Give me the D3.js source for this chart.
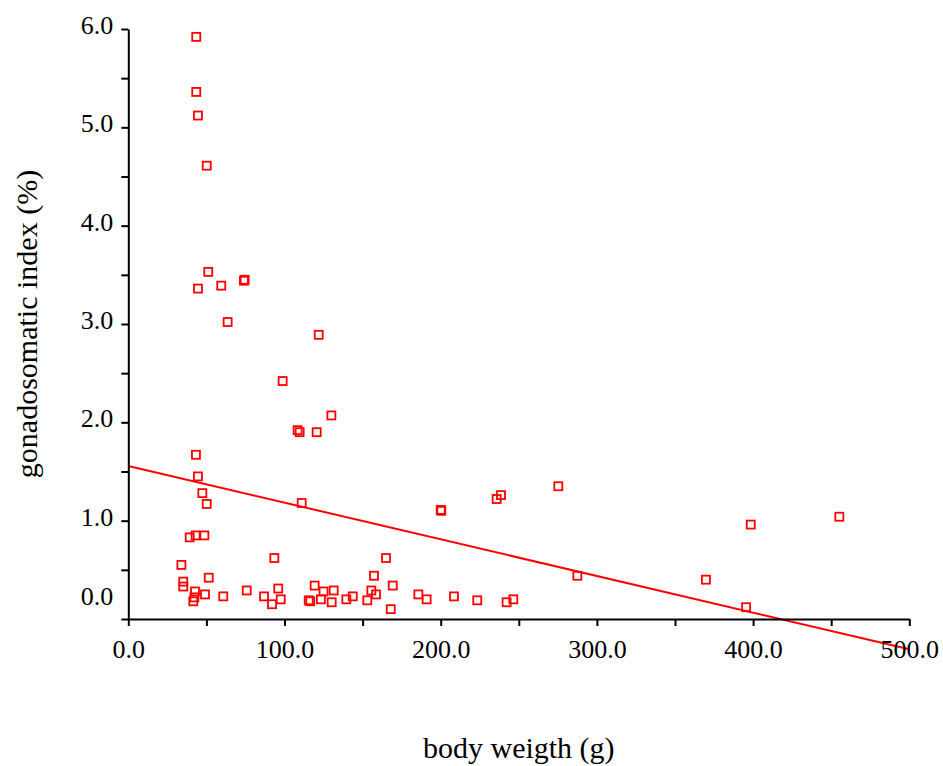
<!DOCTYPE html>
<html>
<head>
<meta charset="utf-8">
<script src="https://cdn.jsdelivr.net/npm/d3@7"></script>
<style>
  html, body { margin: 0; padding: 0; background: #fff; }
  svg { display: block; }
</style>
</head>
<body>
<svg id="chart" width="943" height="766"></svg>
<script>
// ---- data ----
const bodyWeight = [
  43.5, 43.5, 44.6, 50.2, 51.2, 44.6, 59.5, 74.5, 74.0, 63.6,
  121.9, 98.8, 130.0, 108.4, 109.7, 120.6, 43.3, 44.6, 47.4, 50.2,
  111.0, 39.3, 43.1, 48.7, 34.0, 35.2, 35.2, 51.5, 42.7, 42.3,
  41.6, 49.1, 60.8, 75.8, 86.9, 92.0, 93.5, 96.0, 97.6, 115.5,
  116.5, 119.3, 123.3, 125.0, 130.2, 131.5, 139.6, 143.7, 153.0, 155.6,
  157.3, 158.6, 165.0, 169.3, 168.0, 185.7, 191.0, 208.5, 223.4, 242.2,
  246.5, 200.0, 200.4, 235.8, 238.6, 275.3, 287.5, 369.8, 395.5, 398.5,
  455.2
];
const gsi = [
  5.92, 5.36, 5.12, 4.61, 3.53, 3.36, 3.39, 3.45, 3.44, 3.02,
  2.89, 2.42, 2.07, 1.92, 1.90, 1.90, 1.67, 1.45, 1.28, 1.17,
  1.18, 0.83, 0.85, 0.85, 0.55, 0.38, 0.33, 0.42, 0.28, 0.22,
  0.18, 0.25, 0.23, 0.29, 0.23, 0.15, 0.62, 0.31, 0.20, 0.19,
  0.18, 0.34, 0.20, 0.28, 0.17, 0.29, 0.20, 0.23, 0.19, 0.29,
  0.44, 0.25, 0.62, 0.34, 0.10, 0.25, 0.20, 0.23, 0.19, 0.17,
  0.20, 1.11, 1.10, 1.22, 1.26, 1.35, 0.44, 0.40, 0.12, 0.96,
  1.04
];
// linear fit line end points
const fitX = [0, 500];
const fitY = [1.556, -0.308];

const xTicks = [0, 100, 200, 300, 400, 500];
const xMinorTicks = [50, 150, 250, 350, 450];
const yTicks = [0, 1, 2, 3, 4, 5, 6];
const yMinorTicks = [0.5, 1.5, 2.5, 3.5, 4.5, 5.5];

const xTitle = "body weigth (g)";
const yTitle = "gonadosomatic index (%)";

// ---- layout ----
const svg = d3.select("#chart");
const x = d3.scaleLinear().domain([0, 500]).range([128.3, 909.3]);
const y = d3.scaleLinear().domain([0, 6]).range([619, 29]);
const fmt = d3.format(".1f");
const FONT = "'Liberation Serif', 'Times New Roman', serif";

// regression line
const line = d3.line().x(d => x(d[0])).y(d => y(d[1]));
svg.append("path")
  .datum(fitX.map((v, i) => [v, fitY[i]]))
  .attr("d", line)
  .attr("fill", "none")
  .attr("stroke", "#ff0000")
  .attr("stroke-width", 2);

// points
const S = 8;
svg.append("g").selectAll("rect")
  .data(bodyWeight.map((v, i) => [v, gsi[i]]))
  .join("rect")
  .attr("x", d => x(d[0]) - S / 2)
  .attr("y", d => y(d[1]) - S / 2)
  .attr("width", S)
  .attr("height", S)
  .attr("fill", "none")
  .attr("stroke", "#ff0000")
  .attr("stroke-width", 1.8);

// x axis
const gx = svg.append("g").attr("transform", `translate(0,${y(0)})`);
gx.call(d3.axisBottom(x).tickValues(xTicks).tickFormat(fmt).tickSize(7).tickPadding(14).tickSizeOuter(0));
const gxm = svg.append("g").attr("transform", `translate(0,${y(0)})`);
gxm.call(d3.axisBottom(x).tickValues(xMinorTicks).tickFormat("").tickSize(7).tickSizeOuter(0));
gxm.select(".domain").remove();

// y axis
const gy = svg.append("g").attr("transform", `translate(${x(0)},0)`);
gy.call(d3.axisLeft(y).tickValues(yTicks).tickFormat(fmt).tickSize(7).tickPadding(8).tickSizeOuter(0));
const gym = svg.append("g").attr("transform", `translate(${x(0)},0)`);
gym.call(d3.axisLeft(y).tickValues(yMinorTicks).tickFormat("").tickSize(7).tickSizeOuter(0));
gym.select(".domain").remove();

// styling
[gx, gxm, gy, gym].forEach(g => {
  g.selectAll(".domain").attr("stroke", "#000").attr("stroke-width", 2);
  g.selectAll(".tick line").attr("stroke", "#000").attr("stroke-width", 2);
  g.selectAll("text").attr("font-family", FONT).attr("font-size", 26).attr("fill", "#000");
});
gy.selectAll(".tick text").attr("dy", "0.17em");
// the zero label on the y axis is lifted above the x axis
gy.selectAll(".tick").filter(d => d === 0).select("text").attr("transform", "translate(0,-19)");

// titles
svg.append("text")
  .attr("x", (x.range()[0] + x.range()[1]) / 2)
  .attr("y", 758)
  .attr("text-anchor", "middle")
  .attr("font-family", FONT)
  .attr("font-size", 30)
  .attr("fill", "#000")
  .text(xTitle);

svg.append("text")
  .attr("transform", `translate(37,${(y.range()[0] + y.range()[1]) / 2}) rotate(-90)`)
  .attr("text-anchor", "middle")
  .attr("font-family", FONT)
  .attr("font-size", 30)
  .attr("fill", "#000")
  .text(yTitle);
</script>
</body>
</html>
